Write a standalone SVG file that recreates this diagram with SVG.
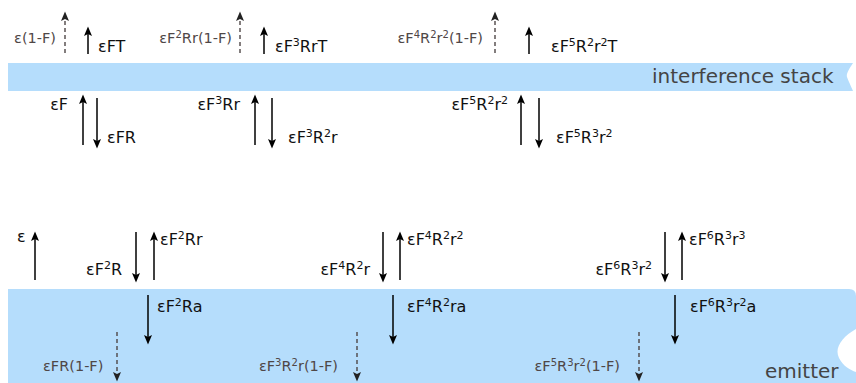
<svg xmlns="http://www.w3.org/2000/svg" width="856" height="383" viewBox="0 0 856 383">
<style>
text{font-family:"DejaVu Sans",Verdana,sans-serif}
.m{font-size:16px;fill:#111}
.g{font-size:14.5px;fill:#4f4747}
.b{font-size:20px;fill:#444}
.s{font-size:11px}
.gs{font-size:10px}
.e{text-anchor:end}
.a{stroke:#000;stroke-width:1.5;fill:none;marker-end:url(#h)}
.d{stroke:#4f4747;stroke-width:1.4;stroke-dasharray:4 3;fill:none;marker-end:url(#hd)}
.band{fill:#b5ddfc}
</style>
<defs>
<marker id="h" markerUnits="userSpaceOnUse" markerWidth="14" markerHeight="12" viewBox="-8 -6 14 12" refX="0" refY="0" orient="auto">
<path d="M4.5,0 L-5,-4 L-3,0 L-5,4 Z" fill="#000"/>
</marker>
<marker id="hd" markerUnits="userSpaceOnUse" markerWidth="14" markerHeight="12" viewBox="-8 -6 14 12" refX="0" refY="0" orient="auto">
<path d="M4.5,0 L-5,-4 L-3,0 L-5,4 Z" fill="#222"/>
</marker>
</defs>

<g id="interference-stack">
<path class="band" d="M8,63 H853 C849,69 846,74 847,77 C848,80 851,86 853,91 H8 Z"/>
<text class="b" x="652" y="83">interference stack</text>
</g>
<g id="emitter">
<path class="band" d="M8,289 H849 Q856,289 856,296 V329 C842,337 834,348 839,358 C843,366 850,370 856,372 V383 H8 Z"/>
<text class="b" x="765" y="378">emitter</text>
</g>

<g id="connectors">
<line class="d" x1="65" y1="53" x2="65" y2="16"/>
<line class="a" x1="88" y1="54" x2="88" y2="31"/>
<line class="d" x1="240" y1="53" x2="240" y2="16"/>
<line class="a" x1="264" y1="54" x2="264" y2="31"/>
<line class="d" x1="495" y1="53" x2="495" y2="16"/>
<line class="a" x1="529" y1="54" x2="529" y2="31"/>

<line class="a" x1="83" y1="145" x2="83" y2="99"/>
<line class="a" x1="97" y1="98" x2="97" y2="144"/>
<line class="a" x1="255" y1="145" x2="255" y2="99"/>
<line class="a" x1="272" y1="98" x2="272" y2="144"/>
<line class="a" x1="521" y1="145" x2="521" y2="99"/>
<line class="a" x1="539" y1="98" x2="539" y2="144"/>

<line class="a" x1="35" y1="280" x2="35" y2="236"/>
<line class="a" x1="136" y1="232" x2="136" y2="278"/>
<line class="a" x1="154" y1="280" x2="154" y2="236"/>
<line class="a" x1="148" y1="295" x2="148" y2="340"/>
<line class="d" x1="117" y1="332" x2="117" y2="377"/>

<line class="a" x1="383" y1="232" x2="383" y2="278"/>
<line class="a" x1="400" y1="280" x2="400" y2="236"/>
<line class="a" x1="393" y1="295" x2="393" y2="340"/>
<line class="d" x1="357" y1="332" x2="357" y2="377"/>

<line class="a" x1="665" y1="232" x2="665" y2="278"/>
<line class="a" x1="682" y1="280" x2="682" y2="236"/>
<line class="a" x1="675" y1="295" x2="675" y2="340"/>
<line class="d" x1="639" y1="332" x2="639" y2="377"/>
</g>

<g id="labels-top">
<text class="g e" x="56" y="43">ε(1-F)</text>
<text class="m" x="98" y="52">εFT</text>
<text class="g e" x="232" y="43">εF<tspan class="gs" dy="-5">2</tspan><tspan dy="5">Rr(1-F)</tspan></text>
<text class="m" x="275" y="52">εF<tspan class="s" dy="-6">3</tspan><tspan dy="6">RrT</tspan></text>
<text class="g e" x="483" y="43">εF<tspan class="gs" dy="-5">4</tspan><tspan dy="5">R</tspan><tspan class="gs" dy="-5">2</tspan><tspan dy="5">r</tspan><tspan class="gs" dy="-5">2</tspan><tspan dy="5">(1-F)</tspan></text>
<text class="m" x="551" y="52">εF<tspan class="s" dy="-6">5</tspan><tspan dy="6">R</tspan><tspan class="s" dy="-6">2</tspan><tspan dy="6">r</tspan><tspan class="s" dy="-6">2</tspan><tspan dy="6">T</tspan></text>
</g>

<g id="labels-stack">
<text class="m e" x="68" y="110">εF</text>
<text class="m" x="107" y="143">εFR</text>
<text class="m e" x="240" y="110">εF<tspan class="s" dy="-6">3</tspan><tspan dy="6">Rr</tspan></text>
<text class="m" x="288" y="143">εF<tspan class="s" dy="-6">3</tspan><tspan dy="6">R</tspan><tspan class="s" dy="-6">2</tspan><tspan dy="6">r</tspan></text>
<text class="m e" x="508" y="110">εF<tspan class="s" dy="-6">5</tspan><tspan dy="6">R</tspan><tspan class="s" dy="-6">2</tspan><tspan dy="6">r</tspan><tspan class="s" dy="-6">2</tspan></text>
<text class="m" x="556" y="143">εF<tspan class="s" dy="-6">5</tspan><tspan dy="6">R</tspan><tspan class="s" dy="-6">3</tspan><tspan dy="6">r</tspan><tspan class="s" dy="-6">2</tspan></text>
</g>

<g id="labels-emitter">
<text class="m" x="17" y="242">ε</text>
<text class="m" x="160" y="245">εF<tspan class="s" dy="-6">2</tspan><tspan dy="6">Rr</tspan></text>
<text class="m e" x="122" y="275">εF<tspan class="s" dy="-6">2</tspan><tspan dy="6">R</tspan></text>
<text class="m" x="157" y="312">εF<tspan class="s" dy="-6">2</tspan><tspan dy="6">Ra</tspan></text>
<text class="g" x="43" y="371">εFR(1-F)</text>

<text class="m" x="407" y="245">εF<tspan class="s" dy="-6">4</tspan><tspan dy="6">R</tspan><tspan class="s" dy="-6">2</tspan><tspan dy="6">r</tspan><tspan class="s" dy="-6">2</tspan></text>
<text class="m e" x="370" y="275">εF<tspan class="s" dy="-6">4</tspan><tspan dy="6">R</tspan><tspan class="s" dy="-6">2</tspan><tspan dy="6">r</tspan></text>
<text class="m" x="407" y="312">εF<tspan class="s" dy="-6">4</tspan><tspan dy="6">R</tspan><tspan class="s" dy="-6">2</tspan><tspan dy="6">ra</tspan></text>
<text class="g e" x="338" y="371">εF<tspan class="gs" dy="-5">3</tspan><tspan dy="5">R</tspan><tspan class="gs" dy="-5">2</tspan><tspan dy="5">r(1-F)</tspan></text>

<text class="m" x="689" y="245">εF<tspan class="s" dy="-6">6</tspan><tspan dy="6">R</tspan><tspan class="s" dy="-6">3</tspan><tspan dy="6">r</tspan><tspan class="s" dy="-6">3</tspan></text>
<text class="m e" x="652" y="275">εF<tspan class="s" dy="-6">6</tspan><tspan dy="6">R</tspan><tspan class="s" dy="-6">3</tspan><tspan dy="6">r</tspan><tspan class="s" dy="-6">2</tspan></text>
<text class="m" x="690" y="312">εF<tspan class="s" dy="-6">6</tspan><tspan dy="6">R</tspan><tspan class="s" dy="-6">3</tspan><tspan dy="6">r</tspan><tspan class="s" dy="-6">2</tspan><tspan dy="6">a</tspan></text>
<text class="g e" x="620" y="371">εF<tspan class="gs" dy="-5">5</tspan><tspan dy="5">R</tspan><tspan class="gs" dy="-5">3</tspan><tspan dy="5">r</tspan><tspan class="gs" dy="-5">2</tspan><tspan dy="5">(1-F)</tspan></text>
</g>
</svg>
